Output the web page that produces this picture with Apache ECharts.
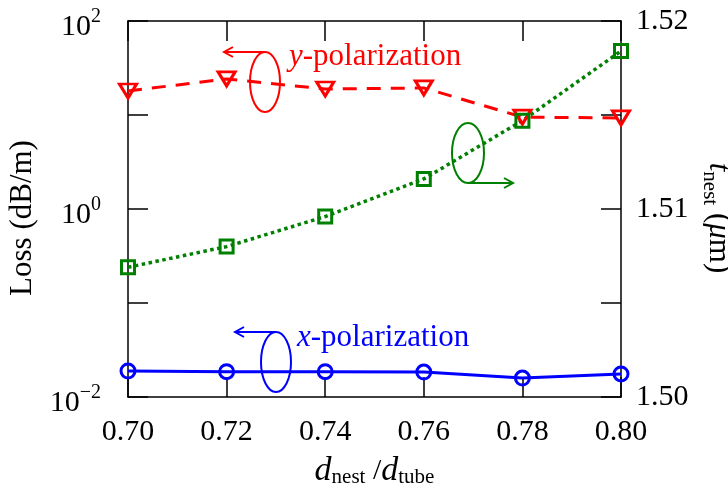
<!DOCTYPE html>
<html>
<head>
<meta charset="utf-8">
<script src="https://cdn.jsdelivr.net/npm/echarts@6/dist/echarts.min.js"></script>
<style>
  html, body { margin: 0; padding: 0; background: #fff; }
  #chart { width: 728px; height: 489px; }
</style>
</head>
<body>
<div id="chart"></div>
<script>
// Nest-to-tube diameter ratio
const ratio = [0.70, 0.72, 0.74, 0.76, 0.78, 0.80];
// Loss (dB/m) for the two polarizations
const lossX = [0.0189, 0.0186, 0.0186, 0.0184, 0.0159, 0.0176];
const lossY = [18.0, 24.2, 18.9, 19.4, 9.5, 9.3];
// Nested tube wall thickness (µm)
const tNest = [1.5069, 1.5080, 1.5096, 1.5116, 1.5147, 1.5184];
// Tick labels
const xTicks = ['0.70', '0.72', '0.74', '0.76', '0.78', '0.80'];
const tTicks = ['1.50', '1.51', '1.52'];

const FONT = '"Liberation Serif", "Times New Roman", serif';
const FS = 30;
const AFS = 31;
const BLUE = '#0000ff', RED = '#ff0000', GREEN = '#008000';

const pairs = (ys) => ratio.map((x, i) => [x, ys[i]]);

const chart = echarts.init(document.getElementById('chart'), null, { renderer: 'canvas' });

const tickStyle = { show: true, inside: true, length: 20, lineStyle: { color: '#000', width: 1.5 } };
const lineStyle = { show: true, lineStyle: { color: '#000', width: 1.5 } };

const option = {
  animation: false,
  backgroundColor: '#fff',
  grid: { left: 128, right: 107, top: 21, bottom: 92, containLabel: false, outerBoundsMode: 'none' },
  xAxis: [{
    type: 'value', min: 0.70, max: 0.80, interval: 0.02,
    axisLine: lineStyle, axisTick: tickStyle, splitLine: { show: false },
    axisLabel: {
      margin: 20, color: '#000', fontFamily: FONT, fontSize: FS,
      formatter: (v) => { const s = v.toFixed(2); return xTicks.includes(s) ? s : ''; }
    },
    name: '{i|d}{s|nest}{n| /}{i|d}{s|tube}',
    nameLocation: 'middle', nameGap: 57,
    nameTextStyle: {
      color: '#000', fontFamily: FONT,
      rich: {
        i: { fontSize: 34, fontStyle: 'italic', fontFamily: FONT, color: '#000' },
        n: { fontSize: FS, fontFamily: FONT, color: '#000' },
        s: { fontSize: 21, fontFamily: FONT, color: '#000', padding: [12, 0, 0, 0] }
      }
    }
  }, {
    type: 'value', position: 'top', min: 0.70, max: 0.80, interval: 0.02,
    axisLine: lineStyle, axisTick: tickStyle, axisLabel: { show: false }, splitLine: { show: false }
  }],
  yAxis: [{
    type: 'log', logBase: 10, min: 0.01, max: 100, position: 'left',
    axisLine: lineStyle, axisTick: tickStyle, splitLine: { show: false }, minorTick: { show: false },
    axisLabel: {
      margin: 27, color: '#000', fontFamily: FONT,
      formatter: (v) => {
        const e = Math.round(Math.log10(v));
        if (e % 2 !== 0) return '';
        return '{b|10}{e|' + (e < 0 ? '\u2212' + (-e) : e) + '}';
      },
      rich: {
        b: { fontSize: FS, fontFamily: FONT, color: '#000', padding: [12, 0, 0, 0] },
        e: { fontSize: 20, fontFamily: FONT, color: '#000', padding: [0, 0, 8, 0] }
      }
    },
    name: 'Loss (dB/m)', nameLocation: 'middle', nameGap: 84,
    nameTextStyle: { color: '#000', fontFamily: FONT, fontSize: 31, padding: [0, 18, 0, 0] }
  }, {
    type: 'value', min: 1.50, max: 1.52, interval: 0.005, position: 'right',
    axisLine: lineStyle, axisTick: tickStyle, splitLine: { show: false },
    axisLabel: {
      margin: 15, color: '#000', fontFamily: FONT, fontSize: FS,
      formatter: (v) => { const s = v.toFixed(2); return (tTicks.includes(s) && Math.abs(v - parseFloat(s)) < 1e-6) ? s : ''; }
    },
    name: '{i|t}{s|nest}{n| (}{i|\u03bc}{n|m)}', nameLocation: 'middle', nameGap: 60, nameRotate: -90,
    nameTextStyle: {
      color: '#000', fontFamily: FONT, padding: [0, 0, 0, 18],
      rich: {
        i: { fontSize: 31, fontStyle: 'italic', fontFamily: FONT, color: '#000' },
        n: { fontSize: 31, fontFamily: FONT, color: '#000' },
        s: { fontSize: 21, fontFamily: FONT, color: '#000', padding: [16, 0, 0, 0] }
      }
    }
  }],
  series: [{
    name: 'x-polarization', type: 'line', xAxisIndex: 0, yAxisIndex: 0,
    data: pairs(lossX),
    symbol: 'circle', symbolSize: 14,
    itemStyle: { color: 'rgba(0,0,0,0)', borderColor: BLUE, borderWidth: 3 },
    lineStyle: { color: BLUE, width: 3 },
    z: 3
  }, {
    name: 'y-polarization', type: 'line', xAxisIndex: 0, yAxisIndex: 0,
    data: pairs(lossY),
    symbol: 'triangle', symbolRotate: 180, symbolSize: [17, 14],
    itemStyle: { color: 'rgba(0,0,0,0)', borderColor: RED, borderWidth: 3 },
    lineStyle: { color: RED, width: 3, type: [14, 10] },
    z: 3
  }, {
    name: 'tnest', type: 'line', xAxisIndex: 0, yAxisIndex: 1,
    data: pairs(tNest),
    symbol: 'rect', symbolSize: 13,
    itemStyle: { color: 'rgba(0,0,0,0)', borderColor: GREEN, borderWidth: 3 },
    lineStyle: { color: GREEN, width: 3.5, type: [3.5, 3.5] },
    z: 3
  }],
  graphic: [
    // y-polarization annotation
    { type: 'ellipse', shape: { cx: 265, cy: 82, rx: 15, ry: 30 }, style: { fill: 'none', stroke: RED, lineWidth: 2 } },
    { type: 'polyline', shape: { points: [[265, 52], [224, 52]] }, style: { stroke: RED, lineWidth: 2, fill: 'none' } },
    { type: 'polyline', shape: { points: [[233, 47], [224, 52], [233, 57]] }, style: { stroke: RED, lineWidth: 2, fill: 'none' } },
    { type: 'text', x: 289, y: 72, style: {
        text: '{i|y}-polarization', fill: RED, font: AFS + 'px ' + FONT, textVerticalAlign: 'bottom',
        rich: { i: { fontStyle: 'italic', fontSize: AFS, fontFamily: FONT, fill: RED } } } },
    // x-polarization annotation
    { type: 'ellipse', shape: { cx: 276, cy: 362, rx: 15, ry: 30 }, style: { fill: 'none', stroke: BLUE, lineWidth: 2 } },
    { type: 'polyline', shape: { points: [[276, 332], [235, 332]] }, style: { stroke: BLUE, lineWidth: 2, fill: 'none' } },
    { type: 'polyline', shape: { points: [[244, 327], [235, 332], [244, 337]] }, style: { stroke: BLUE, lineWidth: 2, fill: 'none' } },
    { type: 'text', x: 297, y: 353, style: {
        text: '{i|x}-polarization', fill: BLUE, font: AFS + 'px ' + FONT, textVerticalAlign: 'bottom',
        rich: { i: { fontStyle: 'italic', fontSize: AFS, fontFamily: FONT, fill: BLUE } } } },
    // thickness annotation
    { type: 'ellipse', shape: { cx: 468, cy: 153, rx: 16, ry: 30 }, style: { fill: 'none', stroke: GREEN, lineWidth: 2 } },
    { type: 'polyline', shape: { points: [[468, 183], [513, 183]] }, style: { stroke: GREEN, lineWidth: 2, fill: 'none' } },
    { type: 'polyline', shape: { points: [[504, 178], [513, 183], [504, 188]] }, style: { stroke: GREEN, lineWidth: 2, fill: 'none' } }
  ]
};

chart.setOption(option);
</script>
</body>
</html>
